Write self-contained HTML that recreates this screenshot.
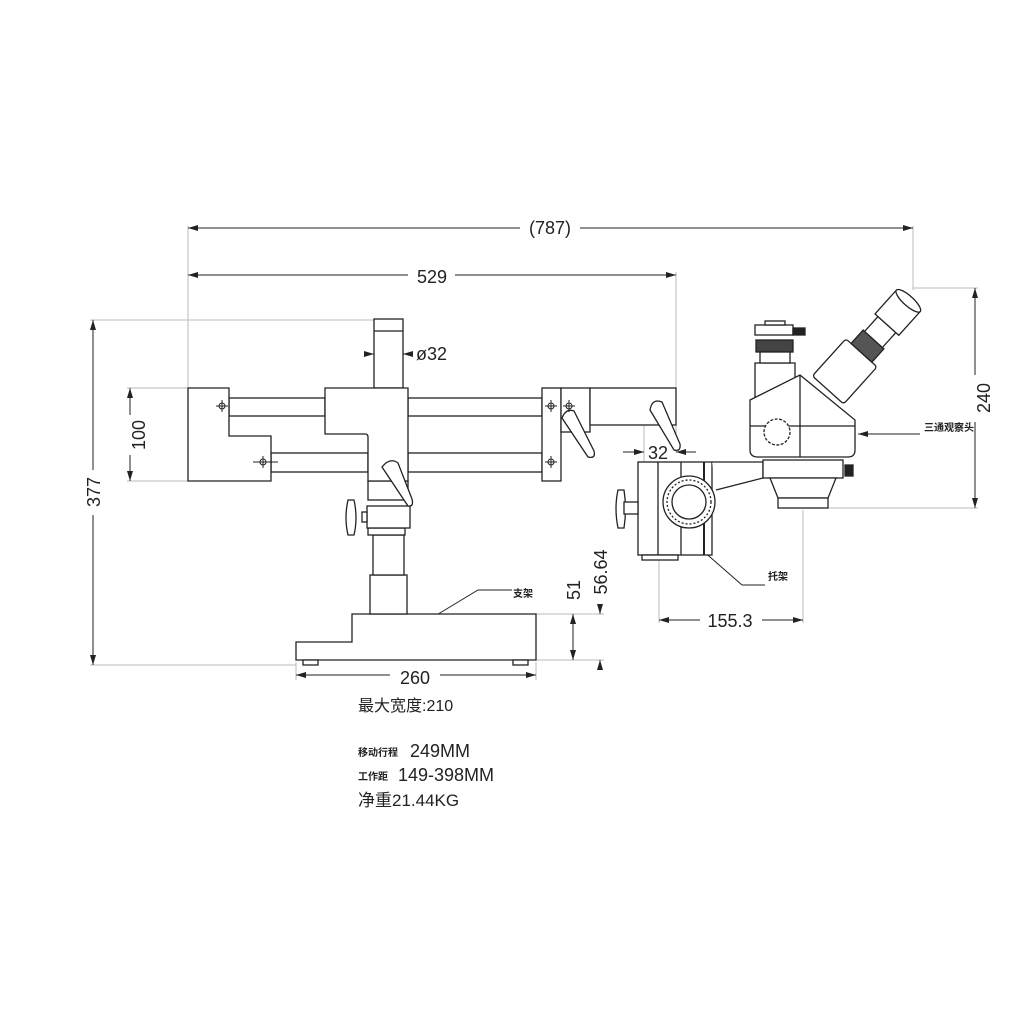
<!DOCTYPE html>
<html><head><meta charset="utf-8"><style>
html,body{margin:0;padding:0;background:#fff;}
svg{display:block}
text{font-family:"Liberation Sans","Noto Sans CJK SC",sans-serif;fill:#222}
</style></head><body>
<svg width="1024" height="1024" viewBox="0 0 1024 1024" xmlns="http://www.w3.org/2000/svg">
<defs>
<marker id="a" markerWidth="10" markerHeight="6" refX="10" refY="3" orient="auto-start-reverse" markerUnits="userSpaceOnUse"><path d="M0,0 L10,3 L0,6z" fill="#222"/></marker>
</defs>
<g stroke="#bbb" stroke-width="1" fill="none">
<!-- extension lines -->
<line x1="188" y1="226" x2="188" y2="388"/>
<line x1="913" y1="226" x2="913" y2="290"/>
<line x1="676" y1="272" x2="676" y2="452"/>
<line x1="90" y1="320" x2="374" y2="320"/>
<line x1="90" y1="665" x2="296" y2="665"/>
<line x1="127" y1="388" x2="188" y2="388"/>
<line x1="127" y1="481" x2="188" y2="481"/>
<line x1="913" y1="288" x2="978" y2="288"/>
<line x1="828" y1="508" x2="978" y2="508"/>
<line x1="659" y1="555" x2="659" y2="623"/>
<line x1="803" y1="510" x2="803" y2="623"/>
<line x1="536" y1="614" x2="604" y2="614"/>
<line x1="536" y1="660" x2="604" y2="660"/>
<line x1="296" y1="662" x2="296" y2="680"/>
<line x1="536" y1="662" x2="536" y2="680"/>
<line x1="644" y1="425" x2="644" y2="462"/>
</g>
<g stroke="#222" stroke-width="1" fill="none">
<line x1="188" y1="228" x2="520" y2="228" marker-start="url(#a)"/>
<line x1="580" y1="228" x2="913" y2="228" marker-end="url(#a)"/>
<line x1="188" y1="275" x2="408" y2="275" marker-start="url(#a)"/>
<line x1="455" y1="275" x2="676" y2="275" marker-end="url(#a)"/>
<line x1="93" y1="320" x2="93" y2="470" marker-start="url(#a)"/>
<line x1="93" y1="515" x2="93" y2="665" marker-end="url(#a)"/>
<line x1="130" y1="388" x2="130" y2="415" marker-start="url(#a)"/>
<line x1="130" y1="455" x2="130" y2="481" marker-end="url(#a)"/>
<line x1="975" y1="288" x2="975" y2="375" marker-start="url(#a)"/>
<line x1="975" y1="422" x2="975" y2="508" marker-end="url(#a)"/>
<line x1="364" y1="354" x2="374" y2="354" marker-end="url(#a)"/>
<line x1="413" y1="354" x2="403" y2="354" marker-end="url(#a)"/>
<line x1="623" y1="452" x2="644" y2="452" marker-end="url(#a)"/>
<line x1="696" y1="452" x2="676" y2="452" marker-end="url(#a)"/>
<line x1="659" y1="620" x2="700" y2="620" marker-start="url(#a)"/>
<line x1="762" y1="620" x2="803" y2="620" marker-end="url(#a)"/>
<line x1="296" y1="675" x2="390" y2="675" marker-start="url(#a)"/>
<line x1="440" y1="675" x2="536" y2="675" marker-end="url(#a)"/>
<line x1="573" y1="614" x2="573" y2="660" marker-start="url(#a)" marker-end="url(#a)"/>
<line x1="600" y1="604" x2="600" y2="614" marker-end="url(#a)"/>
<line x1="600" y1="670" x2="600" y2="660" marker-end="url(#a)"/>
<line x1="920" y1="434" x2="858" y2="434" marker-end="url(#a)"/>
<polyline points="742,585 702,550"/><line x1="742" y1="585" x2="765" y2="585"/>
<polyline points="512,590 478,590 420,625" marker-end="url(#a)"/>
</g>
<!-- stand -->
<g stroke="#222" stroke-width="1.3" fill="#fff">
<path d="M296,642 H352 V614 H536 V660 H296Z"/>
<rect x="303" y="660" width="15" height="5"/><rect x="513" y="660" width="15" height="5"/>
<rect x="370" y="575" width="37" height="39"/>
<rect x="373" y="535" width="31" height="40"/>
<rect x="368" y="528" width="37" height="7"/>
<rect x="367" y="506" width="43" height="22"/>
<rect x="362" y="512" width="5" height="10"/>
<path d="M348,500 q-4,18 0,35 h6 q4,-17 0,-35z"/>
<rect x="368" y="481" width="40" height="19"/>
<rect x="374" y="319" width="29" height="69"/>
<line x1="374" y1="331" x2="403" y2="331"/>
<rect x="229" y="398" width="96" height="18"/>
<rect x="408" y="398" width="134" height="18"/>
<rect x="271" y="453" width="97" height="19"/>
<rect x="408" y="453" width="134" height="19"/>
<path d="M188,388 H229 V436 H271 V481 H188Z"/>
<path d="M325,388 H408 V481 H368 V437 Q368,434 365,434 H325Z"/>
<path d="M382,467 q8,-10 16,-4 l14,36 q2,8 -4,7 z"/>
<rect x="542" y="388" width="19" height="93"/>
<rect x="561" y="388" width="29" height="44"/>
<rect x="590" y="388" width="86" height="37"/>
<path d="M562,418 q4,-10 12,-7 l20,40 q2,8 -6,6 z"/>
<path d="M650,410 q2,-12 12,-8 l18,42 q1,8 -6,6 z"/>
<!-- holder -->
<rect x="638" y="462" width="74" height="93"/>
<line x1="658" y1="462" x2="658" y2="555"/><line x1="681" y1="462" x2="681" y2="555"/><line x1="704" y1="462" x2="704" y2="555" stroke-width="2"/>
<rect x="642" y="555" width="36" height="5"/>
<path d="M618,490 q-4,18 0,38 h6 q3,-19 0,-38z"/><rect x="624" y="502" width="14" height="12"/>
<path d="M712,462 H763 V478 L716,490"/>
<circle cx="689" cy="502" r="26"/>
<circle cx="689" cy="502" r="22" stroke-dasharray="2 2"/>
<circle cx="689" cy="502" r="17"/>
<!-- microscope -->
<rect x="763" y="460" width="80" height="18"/>
<path d="M770,478 H836 L828,498 H778Z"/>
<rect x="778" y="498" width="50" height="10"/>
<rect x="845" y="465" width="8" height="11" fill="#222"/>
<path d="M755,363 H795 V404 H755Z"/>
<rect x="755" y="325" width="38" height="10"/>
<rect x="765" y="321" width="20" height="4"/>
<rect x="793" y="328" width="12" height="7" fill="#222"/>
<rect x="756" y="340" width="37" height="12" fill="#444"/>
<rect x="760" y="352" width="30" height="11"/>
<path d="M750,400 L800,375 L855,420 V450 Q855,457 848,457 H758 Q750,457 750,450Z"/>
<line x1="750" y1="426" x2="855" y2="426"/>
<line x1="800" y1="375" x2="800" y2="457"/>
<circle cx="777" cy="432" r="13" stroke-dasharray="3 1.5"/>
<g transform="translate(828,390) rotate(-48)">
<rect x="0" y="-21" width="50" height="42" rx="3"/>
<rect x="50" y="-14" width="18" height="28" fill="#555"/>
<rect x="68" y="-12" width="20" height="24"/>
<rect x="88" y="-16" width="32" height="32"/>
<ellipse cx="120" cy="0" rx="5" ry="16"/>
</g>
</g>
<!-- screws -->
<g stroke="#222" stroke-width="1" fill="none">
<circle cx="222" cy="406" r="3"/><line x1="216" y1="406" x2="228" y2="406"/><line x1="222" y1="400" x2="222" y2="412"/>
<circle cx="263" cy="462" r="3"/><line x1="253" y1="462" x2="278" y2="462"/><line x1="263" y1="456" x2="263" y2="468"/>
<circle cx="551" cy="406" r="3"/><line x1="545" y1="406" x2="557" y2="406"/><line x1="551" y1="400" x2="551" y2="412"/>
<circle cx="551" cy="462" r="3"/><line x1="545" y1="462" x2="557" y2="462"/><line x1="551" y1="456" x2="551" y2="468"/>
<circle cx="569" cy="406" r="3"/><line x1="563" y1="406" x2="575" y2="406"/><line x1="569" y1="400" x2="569" y2="412"/>
</g>
<!-- labels -->
<g font-size="18">
<text x="550" y="234" text-anchor="middle">(787)</text>
<text x="432" y="283" text-anchor="middle">529</text>
<text x="416" y="360">ø32</text>
<text x="658" y="459" text-anchor="middle">32</text>
<text x="730" y="627" text-anchor="middle">155.3</text>
<text x="415" y="684" text-anchor="middle">260</text>
<text transform="translate(100,492) rotate(-90)" text-anchor="middle">377</text>
<text transform="translate(145,435) rotate(-90)" text-anchor="middle">100</text>
<text transform="translate(990,398) rotate(-90)" text-anchor="middle">240</text>
<text transform="translate(580,590) rotate(-90)" text-anchor="middle">51</text>
<text transform="translate(607,572) rotate(-90)" text-anchor="middle">56.64</text>
</g>
<g font-size="10" font-weight="bold">
<text x="924" y="431">三通观察头</text>
<text x="768" y="580">托架</text>
<text x="513" y="597">支架</text>
</g>
<text x="358" y="711" font-size="16" font-family="Liberation Serif,Noto Serif CJK SC,serif">最大宽度:210</text>
<text x="358" y="756" font-size="10" font-weight="bold">移动行程</text>
<text x="410" y="757" font-size="18">249MM</text>
<text x="358" y="780" font-size="10" font-weight="bold">工作距</text>
<text x="398" y="781" font-size="18">149-398MM</text>
<text x="358" y="806" font-size="17" font-family="Liberation Serif,Noto Serif CJK SC,serif">净重21.44KG</text>
</svg>
</body></html>
